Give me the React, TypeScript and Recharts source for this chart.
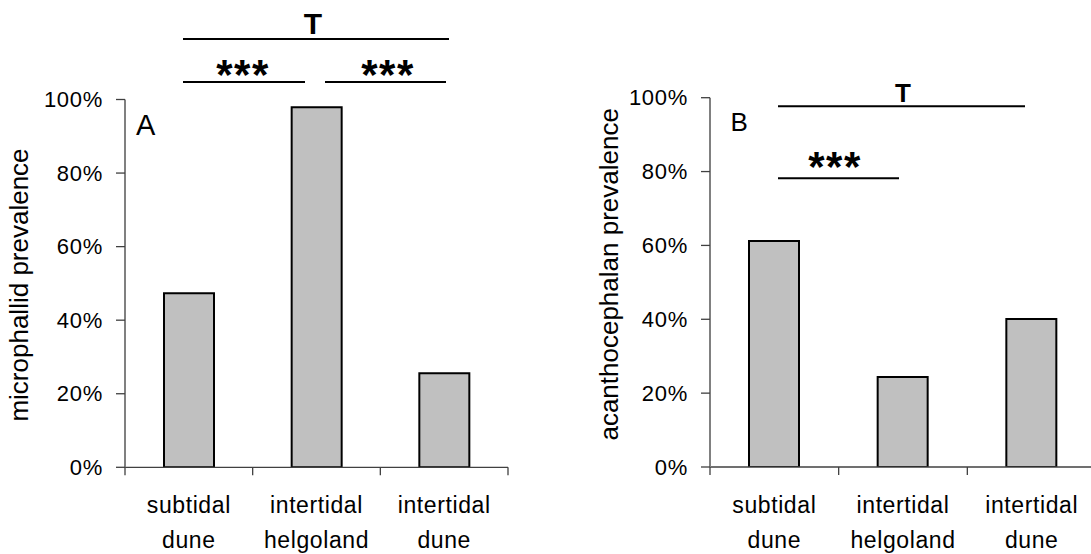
import React from 'react';
import { BarChart, Bar, XAxis, YAxis } from 'recharts';

// Sites sampled (shared by both panels), shown as two-line tick labels
const sites = ['subtidal dune', 'intertidal helgoland', 'intertidal dune'];
const siteLines = [
  ['subtidal', 'dune'],
  ['intertidal', 'helgoland'],
  ['intertidal', 'dune'],
];

// Prevalence (%) per site
const microphallidPrevalence = [47.3, 97.9, 25.6];
const acanthocephalanPrevalence = [61.2, 24.4, 40.1];

// Y axis ticks (%)
const percentTicks = [0, 20, 40, 60, 80, 100];

const dataA = sites.map((site, i) => ({ site, value: microphallidPrevalence[i] }));
const dataB = sites.map((site, i) => ({ site, value: acanthocephalanPrevalence[i] }));

const FONT = '"Liberation Sans", Arial, Helvetica, sans-serif';

const YTick = (props: any) => {
  const { x, y, payload } = props;
  return (
    <text
      x={x}
      y={y}
      textAnchor="end"
      dominantBaseline="central"
      fontFamily={FONT}
      fontSize={22}
      letterSpacing={0.7}
      fill="#000"
    >
      {`${payload.value}%`}
    </text>
  );
};

const makeXTick = (bandHalf: number) => (props: any) => {
  const { x, y, payload, index } = props;
  const idx = payload && typeof payload.index === 'number' ? payload.index : index;
  const half = payload && typeof payload.offset === 'number' && payload.offset > 0 ? payload.offset : bandHalf;
  const lines = siteLines[idx] || [String(payload.value)];
  const isLast = idx === sites.length - 1;
  return (
    <g>
      <line x1={x - half} x2={x - half} y1={y} y2={y + 8} stroke="#404040" strokeWidth={1.3} />
      {isLast && <line x1={x + half} x2={x + half} y1={y} y2={y + 8} stroke="#404040" strokeWidth={1.3} />}
      <text textAnchor="middle" fontFamily={FONT} fontSize={23} letterSpacing={0.6} fill="#000">
        <tspan x={x} y={y + 46}>{lines[0]}</tspan>
        <tspan x={x} y={y + 81}>{lines[1]}</tspan>
      </text>
    </g>
  );
};

const makeYLabel = (text: string, dx: number, dy: number) => (props: any) => {
  const vb = props.viewBox || {};
  const cx = (vb.x || 0) + dx;
  const cy = (vb.y || 0) + (vb.height || 0) / 2 + dy;
  return (
    <text
      x={cx}
      y={cy}
      transform={`rotate(-90 ${cx} ${cy})`}
      textAnchor="middle"
      fontFamily={FONT}
      fontSize={26}
      fill="#000"
    >
      {text}
    </text>
  );
};

type PanelProps = {
  data: { site: string; value: number }[];
  left: number;
  width: number;
  axisWidth: number;
  top: number;
  right: number;
  bottom: number;
  yLabel: string;
  labelDx: number;
  labelDy: number;
};

const Panel = ({ data, left, width, axisWidth, top, right, bottom, yLabel, labelDx, labelDy }: PanelProps) => {
  const plotWidth = width - axisWidth - right;
  return (
    <div style={{ position: 'absolute', left, top: 0, width, height: 554 }}>
      <BarChart width={width} height={554} data={data} margin={{ top, right, bottom, left: 0 }}>
        <XAxis
          dataKey="site"
          height={80}
          axisLine={{ stroke: '#404040', strokeWidth: 1.3 }}
          tickLine={false}
          tickSize={0}
          tickMargin={0}
          interval={0}
          tick={makeXTick(plotWidth / 6)}
        />
        <YAxis
          width={axisWidth}
          domain={[0, 100]}
          ticks={percentTicks}
          allowDataOverflow
          axisLine={{ stroke: '#808080', strokeWidth: 2 }}
          tickLine={{ stroke: '#404040', strokeWidth: 1.3 }}
          tickSize={9}
          tickMargin={13}
          tick={<YTick />}
          label={makeYLabel(yLabel, labelDx, labelDy)}
        />
        <Bar dataKey="value" fill="#c0c0c0" stroke="#000" strokeWidth={2} barSize={50} isAnimationActive={false} />
      </BarChart>
    </div>
  );
};

// Significance brackets and panel letters
const Annotations = () => (
  <svg
    width={1091}
    height={554}
    style={{ position: 'absolute', left: 0, top: 0, pointerEvents: 'none' }}
    fontFamily={FONT}
  >
    {/* panel A */}
    <text x={313} y={34.3} textAnchor="middle" fontSize={30} fontWeight="bold">T</text>
    <line x1={183} x2={449} y1={39} y2={39} stroke="#000" strokeWidth={2} />
    <text x={243} y={89} textAnchor="middle" fontSize={42} fontWeight="bold" letterSpacing={1.5}>***</text>
    <line x1={183} x2={305} y1={82} y2={82} stroke="#000" strokeWidth={2} />
    <text x={388} y={89} textAnchor="middle" fontSize={42} fontWeight="bold" letterSpacing={1.5}>***</text>
    <line x1={325} x2={446} y1={82} y2={82} stroke="#000" strokeWidth={2} />
    <text x={136} y={135} fontSize={29}>A</text>

    {/* panel B */}
    <text x={903} y={101.5} textAnchor="middle" fontSize={26} fontWeight="bold">T</text>
    <line x1={778} x2={1025} y1={106.3} y2={106.3} stroke="#000" strokeWidth={2} />
    <text x={835} y={180.5} textAnchor="middle" fontSize={42} fontWeight="bold" letterSpacing={1.5}>***</text>
    <line x1={778} x2={899} y1={178.3} y2={178.3} stroke="#000" strokeWidth={2} />
    <text x={730.5} y={131} fontSize={26}>B</text>
  </svg>
);

export default function App() {
  return (
    <div
      style={{
        position: 'absolute',
        left: 0,
        top: 0,
        width: 1091,
        height: 554,
        overflow: 'hidden',
        background: '#fff',
      }}
    >
      <Panel
        data={dataA}
        left={0}
        width={560}
        axisWidth={125}
        top={99.5}
        right={52}
        bottom={6.7}
        yLabel="microphallid prevalence"
        labelDx={28}
        labelDy={1.6}
      />
      <Panel
        data={dataB}
        left={560}
        width={540}
        axisWidth={150}
        top={97.7}
        right={4}
        bottom={7}
        yLabel="acanthocephalan prevalence"
        labelDx={58}
        labelDy={-8}
      />
      <Annotations />
    </div>
  );
}
